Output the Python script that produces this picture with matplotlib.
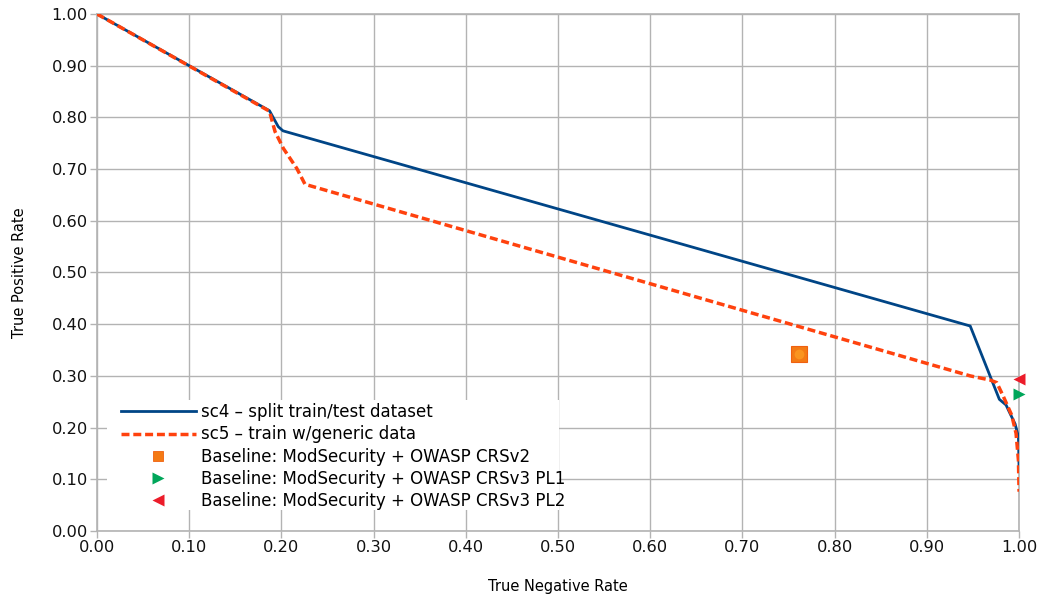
import matplotlib
matplotlib.use("Agg")
import matplotlib.pyplot as plt
from matplotlib.lines import Line2D
from matplotlib.patches import Rectangle
from matplotlib.ticker import FormatStrFormatter, MultipleLocator

# sc4 - split train/test dataset
sc4_tnr = [0.0, 0.187, 0.1966, 0.2017, 0.947, 0.9786, 0.9859, 0.9884, 0.9957, 0.9993, 1.0]
sc4_tpr = [1.0, 0.813, 0.782, 0.774, 0.3965, 0.2547, 0.2437, 0.234, 0.207, 0.1824, 0.121]

# sc5 - train w/generic data
sc5_tnr = [0.0, 0.187, 0.1931, 0.2021, 0.2166, 0.2256, 0.947, 0.9685, 0.9758, 0.983, 0.992, 0.9967, 0.9993, 1.0]
sc5_tpr = [1.0, 0.812, 0.7724, 0.740, 0.7015, 0.6706, 0.300, 0.292, 0.287, 0.260, 0.224, 0.189, 0.137, 0.076]

# baselines (TNR, TPR)
crsv2 = (0.761, 0.342)
crsv3_pl1 = (1.0, 0.2656)
crsv3_pl2 = (1.0, 0.294)

labels = [
    "sc4 – split train/test dataset",
    "sc5 – train w/generic data",
    "Baseline: ModSecurity + OWASP CRSv2",
    "Baseline: ModSecurity + OWASP CRSv3 PL1",
    "Baseline: ModSecurity + OWASP CRSv3 PL2",
]

BLUE = "#004586"
ORANGE = "#ff420e"
SQUARE = "#f47a14"
GREEN = "#00a65a"
RED = "#ec1c2a"
GRID = "#b3b3b3"

fig = plt.figure(figsize=(10.42, 6.01), dpi=100)
ax = fig.add_axes([0.0931, 0.1165, 0.8849, 0.8602])

ax.plot(sc4_tnr, sc4_tpr, color=BLUE, lw=2.0, zorder=4)
ax.plot(sc5_tnr, sc5_tpr, color=ORANGE, lw=2.5, dashes=(2.3, 1.1), zorder=5)

# square with a soft yellow centre, like the office-style symbol
ax.plot(*crsv2, marker="s", ms=11, color=SQUARE, mec="#f06010", mew=0.8, zorder=6, clip_on=False)
ax.plot(*crsv2, marker="o", ms=7, color="#ffa628", mec="none", alpha=0.6, zorder=6, clip_on=False)
ax.plot(*crsv3_pl1, marker=">", ms=9, color=GREEN, mec="none", zorder=6, clip_on=False)
ax.plot(*crsv3_pl2, marker="<", ms=9, color=RED, mec="none", zorder=6, clip_on=False)

ax.set_xlim(0, 1)
ax.set_ylim(0, 1)
ax.xaxis.set_major_locator(MultipleLocator(0.1))
ax.yaxis.set_major_locator(MultipleLocator(0.1))
ax.xaxis.set_major_formatter(FormatStrFormatter("%.2f"))
ax.yaxis.set_major_formatter(FormatStrFormatter("%.2f"))
ax.grid(True, color=GRID, lw=1.0)
ax.set_axisbelow(True)
for s in ax.spines.values():
    s.set_color(GRID)
    s.set_linewidth(1.2)
ax.tick_params(colors=GRID, labelcolor="#111111", labelsize=11.7, length=5, width=1.0, pad=1.5)

ax.set_xlabel("True Negative Rate", fontsize=10.5, labelpad=17)
ax.set_ylabel("True Positive Rate", fontsize=10.5, labelpad=18)

# white legend area covering the grid
ax.add_patch(Rectangle((0.0108, 0.0406), 0.4903, 0.2128, transform=ax.transAxes,
                       facecolor="white", edgecolor="none", zorder=2))

handles = [
    Line2D([], [], color=BLUE, lw=2.0),
    Line2D([], [], color=ORANGE, lw=2.5, dashes=(2.3, 1.1)),
    Line2D([], [], ls="none", marker="s", ms=7.5, color=SQUARE, mec="#f06010", mew=0.6),
    Line2D([], [], ls="none", marker=">", ms=9, color=GREEN, mec="none"),
    Line2D([], [], ls="none", marker="<", ms=9, color=RED, mec="none"),
]
leg = ax.legend(handles, labels, loc="upper left", bbox_to_anchor=(0.026, 0.247),
                frameon=False, fontsize=12, handlelength=4.5, handletextpad=0.3,
                labelspacing=0.25, borderpad=0, borderaxespad=0, numpoints=1)
leg.set_zorder(7)

fig.savefig("out.png", dpi=100)
